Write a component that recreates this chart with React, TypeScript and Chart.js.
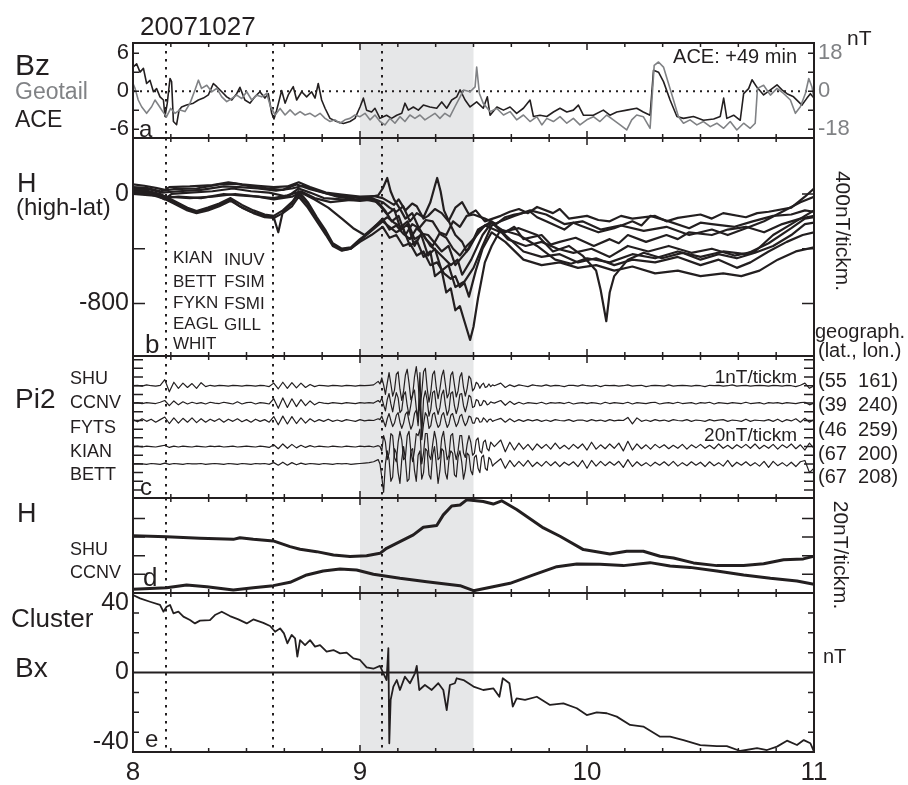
import React, { useEffect, useRef } from 'react';
import { Chart, registerables } from 'chart.js';

Chart.register(...registerables);

// ---------------- data ----------------
const hourTicks = [8, 9, 10, 11];
const bzTicks = [-6, 0, 6];
const geoTicks = [-18, 0, 18];
const hHighTicks = [-800, 0];
const bxTicks = [-40, 0, 40];
const substormWindow = [9.0, 9.5];
const eventTimes = [8.145, 8.615, 9.098];

type P = [number, number];

// Panel a: IMF Bz (ACE, shifted +49 min) and Geotail Bz
const aceBz: P[] = [[8.000,3.8],[8.016,4.3],[8.031,3.0],[8.046,3.6],[8.060,1.2],[8.075,1.7],[8.090,-0.1],[8.104,0.4],[8.119,-0.9],[8.134,-1.4],[8.141,-4.0],[8.151,-1.9],[8.163,2.0],[8.170,1.5],[8.178,-4.8],[8.192,-5.3],[8.203,-3.0],[8.214,-2.5],[8.236,-2.2],[8.266,-1.9],[8.288,-1.4],[8.310,-1.1],[8.332,-0.6],[8.354,1.2],[8.369,0.7],[8.391,-0.1],[8.413,-0.9],[8.435,-1.4],[8.457,-0.4],[8.471,0.6],[8.493,-1.4],[8.515,-1.9],[8.537,-0.9],[8.559,-0.1],[8.581,-1.1],[8.596,-0.4],[8.611,-3.5],[8.621,-4.4],[8.633,-3.0],[8.655,0.1],[8.670,-1.9],[8.684,-0.6],[8.706,0.7],[8.721,-1.4],[8.743,-0.1],[8.765,-0.9],[8.787,-0.1],[8.802,-1.1],[8.816,1.2],[8.831,-1.4],[8.846,-2.7],[8.868,-4.3],[8.897,-4.8],[8.927,-5.1],[8.956,-4.8],[8.978,-4.3],[9.000,-2.5],[9.015,-1.1],[9.029,-3.0],[9.051,-3.3],[9.066,-2.7],[9.088,-4.3],[9.117,-3.8],[9.139,-4.3],[9.162,-3.8],[9.184,-3.5],[9.198,-1.9],[9.213,-3.0],[9.235,-2.5],[9.257,-3.0],[9.279,-2.2],[9.308,-2.5],[9.338,-2.7],[9.360,-1.7],[9.382,-2.7],[9.404,-1.4],[9.426,-0.9],[9.441,0.2],[9.463,-1.4],[9.485,-2.5],[9.514,-1.7],[9.543,-2.7],[9.561,-0.9],[9.573,-3.8],[9.603,-2.5],[9.632,-3.0],[9.661,-2.5],[9.690,-3.5],[9.720,-2.7],[9.749,-1.4],[9.764,-4.0],[9.793,-3.8],[9.823,-4.0],[9.852,-3.3],[9.881,-2.7],[9.911,-3.3],[9.940,-3.0],[9.962,-2.2],[9.984,-3.8],[10.028,-3.8],[10.072,-3.0],[10.101,-3.8],[10.131,-3.3],[10.175,-3.0],[10.219,-2.7],[10.248,-3.3],[10.278,-3.8],[10.293,3.3],[10.315,3.0],[10.337,1.5],[10.366,-1.4],[10.396,-4.0],[10.425,-4.3],[10.469,-4.0],[10.513,-4.6],[10.558,-4.4],[10.587,-4.0],[10.602,-1.1],[10.616,-4.3],[10.646,-3.8],[10.675,-4.6],[10.690,-0.4],[10.712,0.4],[10.727,1.8],[10.749,0.6],[10.778,-0.6],[10.808,0.2],[10.837,1.0],[10.859,0.2],[10.881,-0.4],[10.910,-0.9],[10.947,-2.2],[10.969,-1.1],[10.984,-0.4],[11.000,-1.1]];

const geotailBz: P[] = [[8.000,3.6],[8.009,1.3],[8.023,-4.2],[8.038,-7.4],[8.060,-10.5],[8.082,-7.4],[8.097,-4.2],[8.112,-6.6],[8.131,-9.7],[8.148,-12.1],[8.166,-8.2],[8.185,-10.5],[8.207,-8.9],[8.229,-9.7],[8.251,-5.8],[8.273,0.5],[8.288,5.2],[8.302,1.3],[8.325,2.8],[8.347,-0.3],[8.369,1.3],[8.391,-2.7],[8.413,-5.0],[8.435,-3.5],[8.457,-1.9],[8.479,-3.5],[8.501,-0.3],[8.523,-4.2],[8.545,-1.9],[8.567,-2.7],[8.589,-1.1],[8.606,-7.4],[8.626,-11.3],[8.648,-8.2],[8.670,-11.3],[8.692,-8.9],[8.714,-11.3],[8.736,-9.7],[8.758,-11.3],[8.780,-10.5],[8.802,-12.1],[8.824,-10.5],[8.846,-12.9],[8.868,-14.4],[8.890,-13.6],[8.912,-15.2],[8.934,-13.6],[8.956,-12.9],[8.978,-11.3],[9.000,-12.1],[9.022,-10.5],[9.044,-13.6],[9.066,-11.3],[9.088,-14.4],[9.110,-16.0],[9.132,-12.9],[9.154,-15.2],[9.176,-12.1],[9.198,-14.4],[9.220,-11.3],[9.242,-12.9],[9.264,-11.3],[9.286,-13.6],[9.308,-12.1],[9.330,-10.5],[9.352,-12.9],[9.374,-10.5],[9.396,-12.1],[9.418,-7.4],[9.441,-2.7],[9.456,0.5],[9.485,-0.3],[9.507,2.0],[9.514,11.4],[9.526,-1.1],[9.543,-5.8],[9.573,-9.7],[9.603,-8.2],[9.632,-11.3],[9.661,-9.7],[9.690,-13.6],[9.720,-11.3],[9.749,-14.4],[9.779,-12.1],[9.801,-16.0],[9.823,-12.9],[9.852,-14.4],[9.881,-12.1],[9.911,-15.2],[9.940,-12.9],[9.969,-16.0],[9.999,-13.6],[10.028,-12.1],[10.057,-14.4],[10.087,-11.3],[10.116,-13.6],[10.146,-16.0],[10.175,-18.4],[10.197,-13.6],[10.219,-11.3],[10.248,-12.1],[10.278,-17.6],[10.296,12.2],[10.315,13.8],[10.337,11.4],[10.359,3.6],[10.381,-4.2],[10.403,-12.1],[10.425,-15.2],[10.454,-13.6],[10.484,-16.0],[10.513,-14.4],[10.543,-16.8],[10.572,-15.2],[10.602,-17.6],[10.631,-14.4],[10.660,-18.4],[10.690,-15.2],[10.719,-17.6],[10.741,-15.2],[10.751,1.3],[10.778,2.8],[10.808,-1.9],[10.837,1.3],[10.866,-1.1],[10.896,-4.2],[10.918,-10.5],[10.940,-7.4],[10.962,-1.1],[10.977,6.0],[10.991,2.0],[11.000,-3.5]];

// Panel b: high-latitude H (nT)
const highLatStations = ['KIAN', 'BETT', 'FYKN', 'EAGL', 'WHIT', 'INUV', 'FSIM', 'FSMI', 'GILL'];
const hINUV: P[] = [[8.00,70],[8.05,60],[8.10,45],[8.14,30],[8.16,50],[8.25,55],[8.35,65],[8.42,85],[8.48,70],[8.55,60],[8.62,50],[8.68,55],[8.73,85],[8.78,50],[8.85,10],[8.92,-5],[9.00,-20],[9.06,-15],[9.10,-30],[9.13,-60],[9.15,-80],[9.17,-40],[9.20,-120],[9.23,-70],[9.25,-90],[9.28,-180],[9.30,-160],[9.33,-110],[9.36,-140],[9.39,-200],[9.42,-100],[9.45,-60],[9.48,-150],[9.51,-120],[9.55,-200],[9.62,-160],[9.66,-130],[9.70,-110],[9.74,-140],[9.78,-95],[9.85,-140],[9.88,-110],[9.92,-180],[10.00,-160],[10.05,-190],[10.10,-200],[10.15,-160],[10.20,-180],[10.30,-160],[10.35,-200],[10.40,-175],[10.50,-150],[10.55,-180],[10.60,-140],[10.70,-170],[10.75,-140],[10.80,-130],[10.90,-100],[10.96,-20],[11.00,40]];
const hFSIM: P[] = [[8.00,50],[8.06,45],[8.12,20],[8.18,35],[8.28,40],[8.38,70],[8.45,75],[8.52,55],[8.60,40],[8.66,30],[8.72,70],[8.78,35],[8.86,0],[8.94,-20],[9.02,-30],[9.08,-10],[9.10,40],[9.12,117],[9.135,20],[9.15,-40],[9.18,-120],[9.20,-180],[9.23,-140],[9.26,-250],[9.29,-190],[9.32,-200],[9.35,-280],[9.38,-300],[9.41,-200],[9.44,-240],[9.47,-160],[9.50,-150],[9.55,-180],[9.60,-220],[9.64,-170],[9.68,-150],[9.75,-130],[9.78,-170],[9.82,-200],[9.90,-260],[9.94,-210],[9.97,-230],[10.05,-280],[10.12,-250],[10.20,-200],[10.24,-230],[10.28,-160],[10.36,-200],[10.45,-250],[10.50,-210],[10.55,-220],[10.65,-240],[10.73,-200],[10.82,-160],[10.90,-150],[10.96,-120],[11.00,-130]];
const hFSMI: P[] = [[8.00,40],[8.07,35],[8.13,10],[8.20,20],[8.30,30],[8.40,55],[8.47,50],[8.55,40],[8.63,25],[8.70,40],[8.75,60],[8.82,20],[8.90,-20],[8.98,-40],[9.05,-30],[9.10,-60],[9.13,-100],[9.16,-130],[9.19,-90],[9.22,-200],[9.25,-140],[9.28,-170],[9.31,-60],[9.33,60],[9.34,117],[9.355,20],[9.37,-120],[9.40,-230],[9.42,-300],[9.45,-350],[9.47,-420],[9.50,-330],[9.52,-260],[9.58,-210],[9.64,-280],[9.68,-240],[9.72,-330],[9.80,-300],[9.84,-370],[9.88,-350],[9.95,-320],[10.03,-380],[10.10,-330],[10.14,-360],[10.18,-300],[10.26,-350],[10.35,-300],[10.40,-330],[10.45,-280],[10.55,-300],[10.62,-260],[10.70,-240],[10.78,-280],[10.86,-220],[10.94,-180],[11.00,-160]];
const hGILL: P[] = [[8.00,20],[8.08,10],[8.14,-40],[8.17,0],[8.25,10],[8.35,20],[8.44,40],[8.52,20],[8.60,10],[8.68,-20],[8.73,40],[8.78,10],[8.84,-30],[8.92,-40],[9.00,-50],[9.06,-40],[9.09,-90],[9.12,-150],[9.15,-110],[9.18,-260],[9.21,-220],[9.24,-380],[9.27,-290],[9.30,-300],[9.33,-360],[9.36,-420],[9.39,-380],[9.42,-520],[9.45,-460],[9.48,-400],[9.53,-250],[9.58,-200],[9.65,-330],[9.73,-380],[9.80,-350],[9.87,-400],[9.94,-430],[10.02,-400],[10.10,-460],[10.18,-380],[10.27,-420],[10.36,-380],[10.46,-430],[10.55,-400],[10.65,-450],[10.74,-420],[10.82,-300],[10.90,-220],[10.96,-160],[11.00,-120]];
const hWHIT: P[] = [[8.00,10],[8.07,0],[8.13,-30],[8.20,-20],[8.30,-30],[8.40,0],[8.47,-10],[8.55,-20],[8.62,-30],[8.68,-10],[8.74,20],[8.80,-30],[8.87,-60],[8.95,-45],[9.02,-40],[9.08,-60],[9.11,-120],[9.14,-200],[9.17,-160],[9.20,-300],[9.23,-220],[9.26,-250],[9.29,-330],[9.32,-380],[9.35,-290],[9.38,-320],[9.41,-400],[9.44,-450],[9.47,-380],[9.50,-330],[9.55,-230],[9.62,-280],[9.70,-250],[9.78,-300],[9.85,-420],[9.92,-380],[9.98,-450],[10.04,-560],[10.06,-700],[10.085,-930],[10.10,-720],[10.12,-600],[10.18,-480],[10.25,-430],[10.33,-470],[10.42,-430],[10.50,-480],[10.58,-440],[10.66,-470],[10.74,-430],[10.82,-380],[10.90,-300],[10.96,-220],[11.00,-210]];
const hFYKN: P[] = [[8.00,30],[8.06,20],[8.12,-10],[8.18,-60],[8.24,-110],[8.28,-135],[8.33,-110],[8.38,-80],[8.43,-40],[8.47,-90],[8.52,-130],[8.58,-160],[8.62,-170],[8.64,-280],[8.66,-130],[8.70,-70],[8.73,20],[8.77,-60],[8.81,-170],[8.85,-270],[8.88,-360],[8.92,-400],[8.96,-390],[9.00,-330],[9.04,-280],[9.10,-180],[9.13,-260],[9.16,-230],[9.19,-290],[9.22,-330],[9.25,-250],[9.28,-300],[9.31,-380],[9.34,-420],[9.37,-470],[9.40,-520],[9.43,-480],[9.45,-590],[9.49,-480],[9.54,-300],[9.58,-210],[9.64,-300],[9.72,-420],[9.80,-460],[9.88,-440],[9.96,-500],[10.04,-470],[10.12,-520],[10.20,-480],[10.30,-500],[10.40,-460],[10.50,-520],[10.58,-480],[10.66,-540],[10.72,-500],[10.80,-420],[10.88,-350],[10.95,-300],[11.00,-280]];
const hKIAN: P[] = [[8.00,40],[8.06,25],[8.12,0],[8.18,-50],[8.24,-100],[8.28,-125],[8.33,-100],[8.38,-70],[8.43,-30],[8.48,-80],[8.53,-120],[8.58,-150],[8.62,-160],[8.66,-120],[8.70,-60],[8.73,0],[8.77,-80],[8.81,-190],[8.85,-290],[8.88,-370],[8.92,-410],[8.96,-400],[9.00,-340],[9.05,-270],[9.10,-200],[9.13,-240],[9.16,-280],[9.19,-250],[9.22,-380],[9.25,-340],[9.28,-460],[9.31,-420],[9.33,-600],[9.36,-560],[9.38,-720],[9.40,-690],[9.42,-850],[9.44,-820],[9.46,-930],[9.485,-1067],[9.50,-970],[9.52,-760],[9.55,-500],[9.58,-380],[9.62,-260],[9.70,-300],[9.78,-380],[9.86,-480],[9.93,-510],[10.00,-470],[10.10,-500],[10.20,-440],[10.30,-470],[10.40,-420],[10.50,-460],[10.60,-420],[10.70,-440],[10.80,-360],[10.90,-250],[10.96,-180],[11.00,-170]];
const hBETT: P[] = [[8.00,20],[8.06,15],[8.12,-20],[8.18,-70],[8.24,-120],[8.28,-140],[8.33,-120],[8.38,-90],[8.43,-50],[8.48,-100],[8.53,-140],[8.58,-170],[8.62,-175],[8.66,-140],[8.70,-90],[8.73,-20],[8.77,-100],[8.81,-200],[8.85,-300],[8.88,-380],[8.92,-415],[8.96,-400],[9.00,-350],[9.05,-300],[9.10,-240],[9.13,-320],[9.16,-300],[9.19,-380],[9.22,-360],[9.25,-450],[9.28,-420],[9.31,-520],[9.34,-500],[9.37,-580],[9.40,-620],[9.42,-600],[9.44,-680],[9.46,-650],[9.48,-750],[9.51,-560],[9.54,-400],[9.58,-280],[9.64,-350],[9.72,-480],[9.80,-520],[9.88,-500],[9.96,-540],[10.04,-520],[10.12,-560],[10.20,-530],[10.30,-580],[10.40,-560],[10.50,-600],[10.60,-580],[10.68,-600],[10.76,-560],[10.84,-480],[10.92,-420],[11.00,-390]];
const hEAGL: P[] = [[8.00,0],[8.08,-10],[8.15,-20],[8.25,-30],[8.35,-20],[8.45,0],[8.55,-20],[8.62,-40],[8.70,-20],[8.74,10],[8.80,-40],[8.86,-100],[8.92,-180],[8.97,-250],[9.02,-300],[9.07,-230],[9.12,-170],[9.15,-210],[9.18,-240],[9.21,-200],[9.24,-330],[9.27,-300],[9.30,-450],[9.33,-400],[9.36,-560],[9.39,-520],[9.42,-680],[9.46,-640],[9.50,-540],[9.54,-380],[9.58,-230],[9.62,-200],[9.68,-160],[9.75,-120],[9.82,-150],[9.90,-220],[9.98,-200],[10.06,-260],[10.15,-230],[10.25,-270],[10.35,-240],[10.45,-300],[10.55,-260],[10.62,-300],[10.70,-250],[10.78,-200],[10.86,-130],[10.94,-60],[11.00,-20]];

// Panel c: Pi2 band-pass (nT). Samples: A 8.00+0.02i, B 9.088+0.008j, C 9.62+0.02k
const pi2Names = ['SHU', 'CCNV', 'FYTS', 'KIAN', 'BETT'];
const pi2Coords = ['(55  161)', '(39  240)', '(46  259)', '(67  200)', '(67  208)'];
const shuA = [0,0.05,-0.05,0.1,0,-0.05,0.05,0.7,-0.7,0.4,-0.3,0.3,-0.2,0.25,-0.3,0.35,-0.1,0.05,-0.05,0.05,0,-0.05,0.05,0,-0.05,0.05,0,-0.05,0.05,0,-0.1,0.3,-0.35,0.4,-0.3,0.35,-0.25,0.3,-0.2,0.15,-0.1,0.05,0,-0.05,0.05,0,-0.05,0.05,0,-0.05,0.05,0,0.05,0.1,0.5];
const shuB = [0.2,0.9,0.1,-1.0,0.3,1.5,0.2,-1.2,-0.5,1.3,1.6,-0.4,-1.7,-0.6,1.2,1.9,0.3,-1.6,-1.1,1.0,2.2,0.4,-2.8,-0.8,1.6,2.0,-0.3,-1.9,-0.7,1.3,1.7,-0.2,-1.5,-0.4,1.1,1.8,0.2,-1.4,-0.9,1.2,1.6,0.1,-1.3,-0.6,1.0,1.5,-0.2,-1.2,-0.3,1.1,0.8,-0.6,-0.3,0.4,0.2,-0.3,0.1,0.3,-0.2,-0.1,0.2,-0.1,0.1,0];
const shuC = [0.3,-0.2,0.1,-0.1,0.1,0,-0.1,0.1,0,-0.05,0.1,-0.05,0.05,0,-0.1,0.05,0.05,-0.05,0.1,0,-0.05,0.05,-0.1,0.05,0,0.05,-0.05,0,0.1,-0.05,0,0.05,-0.1,0,0.05,0,-0.05,0.1,-0.05,0,0.05,0,-0.05,0.05,0,-0.1,0.05,0,0.05,-0.05,0,0.1,-0.05,0,0.05,-0.05,0,0.05,0,-0.05,0.05,0,-0.05,0.05,0,-0.1,0.05,0.3,-0.3,0];
const ccnvA = [0,0.05,-0.05,0.05,0,-0.05,0.1,0.3,-0.3,0.25,-0.2,0.15,-0.1,0.1,-0.05,0.05,-0.1,0.1,0,-0.05,0.1,0,-0.1,0.15,-0.1,0.05,0.1,-0.1,0.05,0,-0.1,0.5,-0.6,0.6,-0.5,0.5,-0.4,0.4,-0.3,0.25,-0.2,0.1,0,-0.05,0.05,0,-0.05,0.05,0,-0.05,0.05,0,0.05,0,0.3];
const ccnvB = [0.1,0.6,-0.2,-0.9,0.4,1.1,-0.1,-1.0,0.2,1.2,0.6,-1.1,-0.8,0.9,1.3,-0.3,-1.4,-0.2,1.1,1.5,-0.6,-1.8,3.5,-3.8,0.5,1.4,0.3,-1.5,-0.7,1.2,1.4,-0.4,-1.3,-0.5,1.0,1.5,-0.2,-1.4,-0.8,1.1,1.3,-0.3,-1.2,-0.4,1.0,1.1,-0.3,-1.0,-0.2,0.9,0.7,-0.5,-0.4,0.4,0.3,-0.3,-0.2,0.3,0.2,-0.2,-0.1,0.15,0.05,0];
const ccnvC = [0.3,-0.25,0.2,-0.15,0.1,-0.1,0.05,0,-0.05,0.1,-0.1,0.05,0,0.05,-0.05,0.1,-0.1,0,0.05,-0.05,0.05,0,-0.1,0.1,-0.05,0.05,0,-0.05,0.1,-0.1,0.05,0,-0.05,0.05,0.1,-0.1,0,0.05,-0.05,0.1,-0.05,0,0.05,-0.1,0.05,0,0.1,-0.1,0.05,0,-0.05,0.05,0,-0.05,0.1,-0.05,0,0.05,-0.1,0.05,0,0.05,-0.05,0.05,0,-0.05,0.05,0.1,-0.2,0];
const fytsA = [0.1,-0.15,0.2,-0.1,0.15,-0.2,0.1,0.4,-0.35,0.3,-0.3,0.25,-0.2,0.3,-0.25,0.2,-0.2,0.15,-0.1,0.2,-0.2,0.15,-0.1,0.2,-0.15,0.1,-0.2,0.15,-0.1,0.1,-0.2,0.45,-0.5,0.5,-0.4,0.45,-0.35,0.3,-0.3,0.2,-0.15,0.1,-0.1,0.15,-0.1,0.05,-0.1,0.1,0,-0.1,0.1,-0.05,0.05,0,0.2];
const fytsB = [0.1,0.5,-0.1,-0.7,0.2,0.8,0,-0.7,-0.3,0.6,0.9,-0.2,-0.9,-0.3,0.7,1.0,-0.1,-1.0,-0.5,0.8,1.2,-0.6,2.5,-2.2,-0.4,0.9,0.5,-0.9,-0.6,0.7,0.9,-0.1,-0.8,-0.5,0.6,0.9,0,-0.8,-0.4,0.6,0.8,0,-0.7,-0.3,0.5,0.7,-0.1,-0.6,-0.2,0.5,0.4,-0.3,-0.3,0.3,0.25,-0.2,-0.15,0.3,0.1,-0.2,0.1,0.15,-0.1,0];
const fytsC = [0.25,-0.2,0.2,-0.15,0.1,-0.1,0.1,-0.05,0.1,-0.1,0.05,-0.1,0.1,0,-0.05,0.1,-0.1,0.05,0.05,-0.1,0.1,-0.05,0.05,-0.1,0.1,-0.05,0.05,0,0.35,-0.4,0.3,-0.1,0.05,-0.1,0.1,-0.05,0.05,-0.1,0.1,0,-0.05,0.1,-0.1,0.05,0,-0.1,0.1,-0.05,0.05,0.1,-0.1,0.05,0,-0.1,0.15,-0.1,0.05,0,-0.05,0.1,-0.1,0.15,-0.15,0.1,-0.05,0.2,-0.2,0.25,-0.2,0.1];
const kianA = [0,1,-1,1,0,-1,1,3,-2,1,-1,1,0,-1,1,0,-1,1,0,1,-1,0,1,-1,0,1,0,-1,1,0,-2,4,-5,6,-4,5,-3,3,-2,2,-1,1,0,-1,1,0,-1,1,0,-1,1,0,1,-1,2];
const kianB = [0,-10,25,10,-30,-15,30,25,-25,-35,10,35,15,-30,-25,25,35,-10,-35,-10,30,25,40,-40,-15,30,30,-20,-30,5,35,15,-30,-25,20,35,0,-30,-20,25,30,-10,-30,-10,25,25,-15,-25,5,25,10,-20,-15,15,20,-10,-15,10,15,-5,-10,10,5,0];
const kianC = [15,-12,10,-8,8,-6,5,-8,6,-4,5,-6,8,-5,3,-6,5,-4,6,-8,10,-6,4,-5,6,-4,8,-10,12,-8,6,-5,4,-6,5,-3,4,-5,3,-4,5,-6,4,-3,5,-4,3,-5,6,-4,3,-5,4,-3,5,-4,6,-5,3,-4,5,-6,4,-3,6,-5,4,-8,8,-4];
const bettA = [0,1,0,-1,1,0,-1,2,-1,1,0,-1,1,0,0,1,-1,0,1,0,-1,1,0,-1,1,0,-1,1,0,1,-1,3,-3,4,-3,3,-2,2,-1,1,0,-1,1,0,-1,1,0,1,-1,0,1,2,3,5,10];
const bettB = [0,-30,-65,0,30,10,-40,-30,35,25,-20,-45,10,40,10,-40,-35,30,35,-15,-40,20,30,-35,-20,35,30,-25,-35,20,40,0,-45,-15,35,30,-20,-35,10,30,25,-25,-30,15,30,5,-35,-15,25,20,-15,-25,15,20,-10,-20,15,20,-10,-15,15,10,-5,0];
const bettC = [12,-10,8,-6,6,-5,8,-6,4,-5,6,-4,5,-6,4,-3,5,-6,8,-10,8,-5,6,-4,5,-3,6,-8,10,-6,5,-4,3,-5,4,-3,5,-4,6,-5,3,-4,5,-3,4,-6,5,-4,3,-5,8,-6,4,-3,5,-4,3,-5,6,-8,6,-4,3,-5,4,-6,5,8,-20,-10];

// Panel d: mid-latitude H (nT, relative)
const shuH: P[] = [[8.000,61.6],[8.148,60.5],[8.295,58.7],[8.442,57.6],[8.471,59.4],[8.530,57.6],[8.618,55.9],[8.692,49.8],[8.736,47.0],[8.809,44.4],[8.883,40.8],[8.956,39.1],[9.029,40.1],[9.088,42.6],[9.117,48.0],[9.176,55.2],[9.235,62.4],[9.279,70.6],[9.338,72.4],[9.367,83.9],[9.404,93.5],[9.441,94.5],[9.470,100.0],[9.543,98.2],[9.587,95.5],[9.624,99.0],[9.690,89.6],[9.808,69.9],[9.881,60.9],[9.984,46.6],[10.101,41.9],[10.175,44.8],[10.248,44.8],[10.322,39.4],[10.381,37.6],[10.469,32.3],[10.572,29.4],[10.690,29.4],[10.778,31.5],[10.866,35.8],[10.953,36.6],[11.000,39.4]];
const ccnvH: P[] = [[8.000,4.0],[8.148,5.7],[8.236,8.6],[8.325,6.8],[8.442,3.2],[8.530,5.7],[8.618,7.9],[8.692,11.5],[8.765,19.4],[8.838,23.7],[8.912,25.8],[8.985,24.7],[9.059,20.1],[9.176,15.8],[9.294,12.2],[9.441,7.9],[9.500,2.5],[9.661,10.4],[9.764,19.4],[9.867,28.3],[9.955,31.2],[10.057,30.8],[10.160,29.4],[10.278,32.6],[10.366,29.0],[10.454,27.5],[10.572,23.7],[10.690,19.4],[10.808,15.8],[10.925,12.9],[11.000,9.3]];

// Panel e: Cluster Bx (nT)
const clusterBx: P[] = [[8.000,39.0],[8.031,37.3],[8.075,35.6],[8.119,34.0],[8.134,30.6],[8.148,33.1],[8.163,34.0],[8.178,29.8],[8.200,30.6],[8.222,28.1],[8.251,26.4],[8.273,24.7],[8.295,26.1],[8.339,26.4],[8.361,28.9],[8.391,30.6],[8.427,28.4],[8.464,26.7],[8.501,24.7],[8.530,26.7],[8.574,25.0],[8.604,23.4],[8.626,20.5],[8.648,22.2],[8.665,19.7],[8.680,14.7],[8.699,18.9],[8.714,17.2],[8.724,8.0],[8.736,16.3],[8.758,13.8],[8.780,16.3],[8.802,13.0],[8.824,13.8],[8.853,10.5],[8.883,11.3],[8.912,9.6],[8.941,10.0],[8.971,7.1],[9.000,6.3],[9.029,2.6],[9.059,1.9],[9.088,3.3],[9.103,-0.4],[9.117,-3.8],[9.125,12.2],[9.129,-35.6],[9.135,-13.8],[9.147,-7.1],[9.162,-3.8],[9.176,-8.8],[9.198,-2.1],[9.220,-5.4],[9.242,-0.4],[9.250,3.3],[9.261,-8.8],[9.286,-6.3],[9.316,-8.8],[9.345,-5.4],[9.367,-8.8],[9.382,-18.9],[9.396,-6.3],[9.418,-5.4],[9.426,-2.9],[9.456,-3.8],[9.500,-7.1],[9.543,-8.8],[9.588,-8.0],[9.614,-12.2],[9.629,-2.9],[9.658,-5.4],[9.673,-17.2],[9.690,-13.0],[9.727,-13.8],[9.779,-12.2],[9.837,-16.3],[9.896,-15.5],[9.955,-18.0],[9.999,-21.4],[10.043,-20.1],[10.087,-20.5],[10.131,-22.2],[10.190,-26.4],[10.248,-27.2],[10.322,-32.3],[10.366,-32.3],[10.425,-34.0],[10.499,-36.5],[10.572,-37.0],[10.616,-37.0],[10.675,-39.5],[10.749,-38.1],[10.793,-39.0],[10.837,-37.3],[10.881,-34.3],[10.925,-36.5],[10.955,-34.0],[10.984,-35.6],[11.000,-39.8]];

// ---------------- styling / layout ----------------
const W = 908;
const H = 785;
const FONT = "'Liberation Sans', Arial, Helvetica, sans-serif";
const INK = '#231f20';
const GREY = '#808285';
const SHADE = '#e6e7e8';
const PLOT_LEFT = 133;
const RIGHT_GUTTER = 94;

const pts = (arr: P[]) => arr.map(([x, y]) => ({ x, y }));

function line(data: any[], color: string, width: number, yAxisID = 'y') {
  return {
    data, borderColor: color, borderWidth: width, pointRadius: 0, fill: false,
    tension: 0, yAxisID, borderJoinStyle: 'round', borderCapStyle: 'round',
  };
}

function xScale(show: boolean) {
  return {
    type: 'linear', min: 8, max: 11, display: show,
    afterBuildTicks: (s: any) => { s.ticks = hourTicks.map((v) => ({ value: v })); },
    afterFit: (s: any) => { s.height = show ? 33 : 0; },
    grid: { display: false, drawTicks: false }, border: { display: false },
    ticks: { padding: 5, color: INK, font: { family: FONT, size: 26 }, callback: (v: any) => String(v), autoSkip: false, maxRotation: 0 },
  };
}

// innerEnds: push the outermost labels inside the panel (as in the original figure)
function yScale(min: number, max: number, labels: number[] | null, size: number, position = 'left', color = INK, innerEnds = false) {
  const lo = labels ? labels[0] : NaN;
  const hi = labels ? labels[labels.length - 1] : NaN;
  return {
    type: 'linear', position, min, max,
    afterFit: (s: any) => { s.width = position === 'left' ? PLOT_LEFT : RIGHT_GUTTER; },
    afterBuildTicks: (s: any) => { s.ticks = (labels || []).map((v) => ({ value: v })); },
    grid: { display: false, drawTicks: false }, border: { display: false },
    ticks: {
      display: !!labels, padding: 4, color,
      font: { family: FONT, size, lineHeight: innerEnds ? 0.8 : 1.2 },
      callback: (v: any) => {
        if (innerEnds && v === hi) return ['', String(v)];
        if (innerEnds && v === lo) return [String(v), ''];
        return String(v);
      },
    },
  };
}

type TickSpec = { axis: string; side: 'left' | 'right'; values: number[]; len: number };

function makeDecor(zero: 'dotted' | 'solid' | null, yTicks: TickSpec[]) {
  return {
    id: 'decor',
    beforeDatasetsDraw(chart: any) {
      const { ctx, chartArea: a, scales } = chart;
      const xs = scales.x;
      ctx.save();
      const s0 = xs.getPixelForValue(substormWindow[0]);
      const s1 = xs.getPixelForValue(substormWindow[1]);
      ctx.fillStyle = SHADE;
      ctx.fillRect(s0, a.top, s1 - s0, a.bottom - a.top);
      ctx.strokeStyle = INK;
      if (zero) {
        const y0 = scales.y.getPixelForValue(0);
        ctx.lineWidth = zero === 'dotted' ? 2 : 1.8;
        ctx.setLineDash(zero === 'dotted' ? [2, 5] : []);
        ctx.beginPath();
        ctx.moveTo(a.left, y0);
        ctx.lineTo(a.right, y0);
        ctx.stroke();
      }
      ctx.setLineDash([2.5, 5.5]);
      ctx.lineWidth = 2;
      for (const t of eventTimes) {
        const px = Math.round(xs.getPixelForValue(t));
        ctx.beginPath();
        ctx.moveTo(px, a.top);
        ctx.lineTo(px, a.bottom);
        ctx.stroke();
      }
      ctx.restore();
    },
    afterDatasetsDraw(chart: any) {
      const { ctx, chartArea: a, scales } = chart;
      const xs = scales.x;
      ctx.save();
      ctx.strokeStyle = INK;
      ctx.lineWidth = 1.5;
      ctx.beginPath();
      for (let k = 1; k < 18; k++) {
        const px = xs.getPixelForValue(8 + k / 6);
        const len = k % 6 === 0 ? 7 : 4;
        ctx.moveTo(px, a.top); ctx.lineTo(px, a.top + len);
        ctx.moveTo(px, a.bottom); ctx.lineTo(px, a.bottom - len);
      }
      for (const t of yTicks) {
        const sc = scales[t.axis];
        for (const v of t.values) {
          const py = sc.getPixelForValue(v);
          if (t.side === 'left') { ctx.moveTo(a.left, py); ctx.lineTo(a.left + t.len, py); }
          else { ctx.moveTo(a.right, py); ctx.lineTo(a.right - t.len, py); }
        }
      }
      ctx.stroke();
      ctx.lineWidth = 2;
      ctx.strokeRect(a.left, a.top, a.right - a.left, a.bottom - a.top);
      ctx.restore();
    },
  };
}

type Note = { text: string; x: number; y: number; size: number; color?: string; align?: string; rot?: boolean };
const notes: Note[] = [
  { text: '20071027', x: 140, y: 35, size: 26 },
  { text: 'Bz', x: 15, y: 75, size: 30 },
  { text: 'Geotail', x: 15, y: 99, size: 23, color: GREY },
  { text: 'ACE', x: 15, y: 127, size: 23 },
  { text: 'ACE: +49 min', x: 797, y: 63, size: 20, align: 'right' },
  { text: 'nT', x: 847, y: 45, size: 21 },
  { text: 'a', x: 139, y: 137, size: 24 },
  { text: 'H', x: 17, y: 192, size: 27 },
  { text: '(high-lat)', x: 16, y: 215, size: 24 },
  { text: highLatStations[0], x: 173, y: 263, size: 17 },
  { text: highLatStations[1], x: 173, y: 287, size: 17 },
  { text: highLatStations[2], x: 173, y: 308, size: 17 },
  { text: highLatStations[3], x: 173, y: 329, size: 17 },
  { text: highLatStations[4], x: 173, y: 349, size: 17 },
  { text: highLatStations[5], x: 224, y: 265, size: 17 },
  { text: highLatStations[6], x: 224, y: 287, size: 17 },
  { text: highLatStations[7], x: 224, y: 309, size: 17 },
  { text: highLatStations[8], x: 224, y: 330, size: 17 },
  { text: 'b', x: 145, y: 353, size: 26 },
  { text: '400nT/tickm.', x: 836, y: 231, size: 21, rot: true },
  { text: 'geograph.', x: 815, y: 338, size: 20 },
  { text: '(lat., lon.)', x: 818, y: 357, size: 20 },
  { text: 'Pi2', x: 15, y: 408, size: 28 },
  { text: pi2Names[0], x: 70, y: 384, size: 18 },
  { text: pi2Names[1], x: 70, y: 408, size: 18 },
  { text: pi2Names[2], x: 70, y: 433, size: 18 },
  { text: pi2Names[3], x: 70, y: 457, size: 18 },
  { text: pi2Names[4], x: 70, y: 480, size: 18 },
  { text: pi2Coords[0], x: 818, y: 387, size: 20 },
  { text: pi2Coords[1], x: 818, y: 411, size: 20 },
  { text: pi2Coords[2], x: 818, y: 436, size: 20 },
  { text: pi2Coords[3], x: 818, y: 460, size: 20 },
  { text: pi2Coords[4], x: 818, y: 483, size: 20 },
  { text: 'c', x: 140, y: 495, size: 24 },
  { text: '1nT/tickm', x: 797, y: 383, size: 19, align: 'right' },
  { text: '20nT/tickm', x: 797, y: 441, size: 19, align: 'right' },
  { text: 'H', x: 17, y: 522, size: 27 },
  { text: 'SHU', x: 70, y: 555, size: 18 },
  { text: 'CCNV', x: 70, y: 578, size: 18 },
  { text: 'd', x: 143, y: 586, size: 26 },
  { text: '20nT/tickm.', x: 834, y: 555, size: 21, rot: true },
  { text: 'Cluster', x: 11, y: 627, size: 26 },
  { text: 'Bx', x: 15, y: 677, size: 28 },
  { text: 'nT', x: 823, y: 663, size: 20 },
  { text: 'e', x: 145, y: 747, size: 24 },
];

const notesPlugin = {
  id: 'notes',
  afterDraw(chart: any) {
    const ctx = chart.ctx;
    ctx.save();
    ctx.textBaseline = 'alphabetic';
    for (const n of notes) {
      ctx.font = `${n.size}px ${FONT}`;
      ctx.fillStyle = n.color || INK;
      if (n.rot) {
        ctx.save();
        ctx.translate(n.x, n.y);
        ctx.rotate(Math.PI / 2);
        ctx.textAlign = 'center';
        ctx.fillText(n.text, 0, 0);
        ctx.restore();
      } else {
        ctx.textAlign = n.align || 'left';
        ctx.fillText(n.text, n.x, n.y);
      }
    }
    ctx.restore();
  },
};

function pi2Points(a: number[], b: number[], c: number[], offset: number, nTperTick: number) {
  const out: { x: number; y: number }[] = [];
  a.forEach((v, i) => out.push({ x: 8 + 0.02 * i, y: offset + v / nTperTick }));
  b.forEach((v, j) => out.push({ x: 9.088 + 0.008 * j, y: offset + v / nTperTick }));
  c.forEach((v, k) => out.push({ x: 9.62 + 0.02 * k, y: offset + v / nTperTick }));
  return out;
}

function baseOptions(top: number, bottom: number, right: number, scales: any) {
  return {
    animation: false, responsive: false, devicePixelRatio: 1, events: [],
    layout: { padding: { top, bottom: H - bottom, left: 0, right } },
    plugins: { legend: { display: false }, tooltip: { enabled: false }, title: { display: false } },
    scales,
  };
}

function makeConfigs(): any[] {
  const a = {
    type: 'line',
    data: { datasets: [line(pts(geotailBz), GREY, 1.6, 'y2'), line(pts(aceBz), INK, 1.6)] },
    options: baseOptions(43, 138, 0, {
      x: xScale(false),
      y: yScale(-7.4, 7.6, bzTicks, 22),
      y2: yScale(-22.2, 22.8, geoTicks, 22, 'right', GREY),
    }),
    plugins: [makeDecor('dotted', [
      { axis: 'y', side: 'left', values: [-6, -3, 0, 3, 6], len: 6 },
      { axis: 'y2', side: 'right', values: [-18, -9, 0, 9, 18], len: 6 },
    ])],
  };
  const highLat = [hKIAN, hBETT, hFYKN, hEAGL, hWHIT, hINUV, hFSIM, hFSMI, hGILL];
  const b = {
    type: 'line',
    data: { datasets: highLat.map((s) => line(pts(s), INK, 2.2)) },
    options: baseOptions(138, 356, RIGHT_GUTTER, {
      x: xScale(false),
      y: yScale(-1184, 409, hHighTicks, 25),
    }),
    plugins: [makeDecor(null, [
      { axis: 'y', side: 'left', values: [-800, -400, 0], len: 12 },
      { axis: 'y', side: 'right', values: [-800, -400, 0], len: 12 },
    ])],
  };
  const pi2 = [
    pi2Points(shuA, shuB, shuC, 12, 1),
    pi2Points(ccnvA, ccnvB, ccnvC, 10, 1),
    pi2Points(fytsA, fytsB, fytsC, 8, 1),
    pi2Points(kianA, kianB, kianC, 5, 20),
    pi2Points(bettA, bettB, bettC, 3, 20),
  ];
  const cTicks = Array.from({ length: 16 }, (_, i) => i);
  const c = {
    type: 'line',
    data: { datasets: pi2.map((d) => line(d, INK, 1.2)) },
    options: baseOptions(356, 498, RIGHT_GUTTER, {
      x: xScale(false),
      y: yScale(-0.92, 15.42, null, 20),
    }),
    plugins: [makeDecor(null, [
      { axis: 'y', side: 'left', values: cTicks, len: 10 },
      { axis: 'y', side: 'right', values: cTicks, len: 10 },
    ])],
  };
  const d = {
    type: 'line',
    data: { datasets: [line(pts(shuH), INK, 3), line(pts(ccnvH), INK, 3)] },
    options: baseOptions(498, 593, RIGHT_GUTTER, {
      x: xScale(false),
      y: yScale(0, 102, null, 20),
    }),
    plugins: [makeDecor(null, [
      { axis: 'y', side: 'left', values: [20, 40, 60, 80], len: 12 },
      { axis: 'y', side: 'right', values: [20, 40, 60, 80], len: 12 },
    ])],
  };
  const e = {
    type: 'line',
    data: { datasets: [line(pts(clusterBx), INK, 1.8)] },
    options: baseOptions(593, H, RIGHT_GUTTER, {
      x: xScale(true),
      y: yScale(-40, 40, bxTicks, 25, 'left', INK, true),
    }),
    plugins: [makeDecor('solid', [
      { axis: 'y', side: 'left', values: [-30, -20, -10, 10, 20, 30], len: 6 },
      { axis: 'y', side: 'right', values: [-30, -20, -10, 10, 20, 30], len: 6 },
    ]), notesPlugin],
  };
  return [a, b, c, d, e];
}

export default function App() {
  const refs = useRef<(HTMLCanvasElement | null)[]>([]);
  useEffect(() => {
    const cfgs = makeConfigs();
    const charts = cfgs.map((cfg, i) => new Chart(refs.current[i] as HTMLCanvasElement, cfg));
    return () => charts.forEach((ch) => ch.destroy());
  }, []);
  return (
    <div style={{ position: 'absolute', left: 0, top: 0, width: W, height: H, background: '#fff', overflow: 'hidden' }}>
      {[0, 1, 2, 3, 4].map((i) => (
        <canvas
          key={i}
          ref={(el) => { refs.current[i] = el; }}
          width={W}
          height={H}
          style={{ position: 'absolute', left: 0, top: 0, width: W, height: H }}
        />
      ))}
    </div>
  );
}
